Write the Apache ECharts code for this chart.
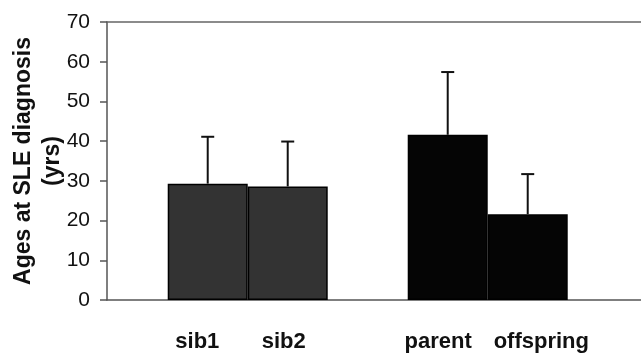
<!DOCTYPE html>
<html>
<head>
<meta charset="utf-8">
<script src="https://cdn.jsdelivr.net/npm/echarts@6/dist/echarts.min.js"></script>
<style>
  html, body { margin: 0; padding: 0; background: #fff; }
</style>
</head>
<body>
<div id="chart" style="width: 641px;height:354px;"></div>
<script>
// slot index on the x axis -> label (empty slot between the two groups)
let slots = ['', 'sib1', 'sib2', '', 'parent', 'offspring']
let groups = ['sib1', 'sib2', 'parent', 'offspring']
let means = [29.3, 28.6, 41.6, 21.6]
let errors = [11.8, 11.3, 15.8, 10.1]
let colors = ['#333333', '#333333', '#050505', '#050505']
let yTicks = [0, 10, 20, 30, 40, 50, 60, 70]

let myChart = echarts.init(document.getElementById('chart'))

let barData = groups.map(function (g, i) {
  return {
    value: [slots.indexOf(g), means[i]],
    itemStyle: { color: colors[i] }
  }
})
let errData = groups.map(function (g, i) {
  return [slots.indexOf(g), means[i], errors[i]]
})

let option = {
  animation: false,
  grid: {
    left: 107,
    right: 0,
    top: 22,
    bottom: 54,
    outerBoundsMode: 'none',
    containLabel: false
  },
  xAxis: [
    {
      type: 'value',
      min: -0.259,
      max: 6.416,
      splitLine: { show: false },
      axisTick: { show: false },
      axisLine: { show: true, onZero: false, lineStyle: { color: '#555', width: 1.5 } },
      axisLabel: {
        // labels in the original sit a little off the bar centres
        customValues: [0.87, 1.95, 3.88, 5.17],
        formatter: function (v) { return slots[Math.round(v)] },
        margin: 31,
        fontFamily: 'Liberation Sans, Arial, sans-serif',
        fontWeight: 'bold',
        fontSize: 22,
        color: '#111'
      }
    },
    {
      type: 'value',
      position: 'top',
      min: 0,
      max: 1,
      splitLine: { show: false },
      axisTick: { show: false },
      axisLabel: { show: false },
      axisLine: { show: true, onZero: false, lineStyle: { color: '#666', width: 1.5 } }
    }
  ],
  yAxis: {
    type: 'value',
    min: 0,
    max: 70,
    interval: 10,
    name: 'Ages at SLE diagnosis\n(yrs)',
    nameLocation: 'middle',
    nameGap: 40,
    nameMoveOverlap: false,
    nameTextStyle: {
      fontFamily: 'Liberation Sans, Arial, sans-serif',
      fontWeight: 'bold',
      fontSize: 23,
      lineHeight: 29,
      color: '#111',
      align: 'center'
    },
    splitLine: { show: false },
    axisLine: { show: true, onZero: false, lineStyle: { color: '#555', width: 1.5 } },
    axisTick: { show: true, length: 7, lineStyle: { color: '#555', width: 1.5 } },
    axisLabel: {
      formatter: function (v) { return yTicks.indexOf(v) >= 0 ? String(v) : '' },
      margin: 17,
      fontFamily: 'Liberation Sans, Arial, sans-serif',
      fontSize: 21,
      color: '#111'
    }
  },
  series: [
    {
      type: 'bar',
      barWidth: 80,
      data: barData,
      itemStyle: { borderColor: '#000', borderWidth: 1.5 },
      z: 2
    },
    {
      type: 'custom',
      z: 3,
      data: errData,
      renderItem: function (params, api) {
        let x = api.value(0)
        let base = api.coord([x, api.value(1)])
        let top = api.coord([x, api.value(1) + api.value(2)])
        let style = { stroke: '#111', lineWidth: 2 }
        return {
          type: 'group',
          children: [
            { type: 'line', shape: { x1: base[0], y1: base[1], x2: top[0], y2: top[1] }, style: style },
            { type: 'line', shape: { x1: top[0] - 6.5, y1: top[1], x2: top[0] + 6.5, y2: top[1] }, style: style }
          ]
        }
      }
    }
  ]
}
myChart.setOption(option, true)
</script>
</body>
</html>
